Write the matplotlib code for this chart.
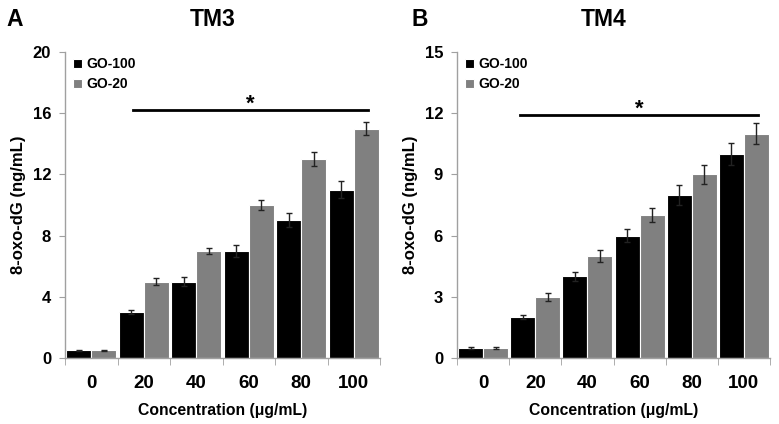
import numpy as np
import matplotlib
matplotlib.use("Agg")
import matplotlib.pyplot as plt

plt.rcParams['font.family'] = ['Liberation Sans', 'DejaVu Sans']
plt.rcParams['font.weight'] = 'bold'

conc = ['0', '20', '40', '60', '80', '100']

# TM3
tm3_go100 = [0.5, 3, 5, 7, 9, 11]
tm3_go100_err = [0.05, 0.15, 0.28, 0.38, 0.45, 0.55]
tm3_go20 = [0.5, 5, 7, 10, 13, 15]
tm3_go20_err = [0.05, 0.2, 0.22, 0.3, 0.45, 0.45]

# TM4
tm4_go100 = [0.5, 2, 4, 6, 8, 10]
tm4_go100_err = [0.05, 0.1, 0.22, 0.3, 0.48, 0.52]
tm4_go20 = [0.5, 3, 5, 7, 9, 11]
tm4_go20_err = [0.05, 0.2, 0.3, 0.35, 0.48, 0.52]

fig = plt.figure(figsize=(7.79, 4.24), dpi=100)
axA = fig.add_axes([65/779, 1-358/424, 315/779, 306/424])
axB = fig.add_axes([457/779, 1-358/424, 313/779, 306/424])

def draw(ax, v1, e1, v2, e2, ymax, step, sig_y, star_y, sig_x0, sig_x1, title, letter, letter_x):
    x = np.arange(len(conc))
    w = 0.48
    ek = dict(ecolor='#222222', elinewidth=1, capsize=2.5, capthick=1)
    ax.bar(x - w/2, v1, w, yerr=e1, color='black', edgecolor='white', linewidth=0.8,
           error_kw=ek, label='GO-100')
    ax.bar(x + w/2, v2, w, yerr=e2, color='#808080', edgecolor='white', linewidth=0.8,
           error_kw=ek, label='GO-20')
    ax.set_xlim(-0.5, len(conc) - 0.5)
    ax.set_ylim(0, ymax)
    ax.set_yticks(np.arange(0, ymax + 0.1, step))
    ax.set_xticks(x)
    ax.set_xticklabels(conc)
    ax.set_xticks(np.arange(-0.5, len(conc)), minor=True)
    ax.tick_params(axis='x', which='major', length=0, labelsize=13.5, pad=12)
    ax.tick_params(axis='x', which='minor', length=5, color='#a0a0a0')
    ax.tick_params(axis='y', length=4, color='#a0a0a0', labelsize=12, pad=6)
    for s in ['top', 'right']:
        ax.spines[s].set_visible(False)
    for s in ['left', 'bottom']:
        ax.spines[s].set_color('#a0a0a0')
        ax.spines[s].set_linewidth(1)
    ax.set_xlabel('Concentration (μg/mL)', fontsize=11.3, fontweight='bold', labelpad=8)
    ax.set_ylabel('8-oxo-dG (ng/mL)', fontsize=12, fontweight='bold', labelpad=5)
    ax.plot([sig_x0, sig_x1], [sig_y, sig_y], color='black', lw=2)
    ax.text((sig_x0 + sig_x1) / 2, star_y, '*', ha='center', va='center', fontsize=16,
            fontweight='bold')
    ax.legend(loc='upper left', frameon=False, fontsize=10, handlelength=0.62,
              handleheight=0.62, handletextpad=0.3, labelspacing=0.45,
              bbox_to_anchor=(-0.005, 1.015), borderaxespad=0.3)
    fig.text(ax.get_position().x0 + ax.get_position().width * 0.47, 1 - 19/424, title,
             ha='center', va='center', fontsize=16.5, fontweight='bold')
    fig.text(letter_x, 1 - 19/424, letter, ha='center', va='center', fontsize=16.5,
             fontweight='bold')

draw(axA, tm3_go100, tm3_go100_err, tm3_go20, tm3_go20_err, 20, 4, 16.2, 16.6,
     0.8, 5.27, 'TM3', 'A', 15/779)
draw(axB, tm4_go100, tm4_go100_err, tm4_go20, tm4_go20_err, 15, 3, 11.92, 12.2,
     0.71, 5.27, 'TM4', 'B', 420/779)

fig.savefig('out.png', dpi=100)
